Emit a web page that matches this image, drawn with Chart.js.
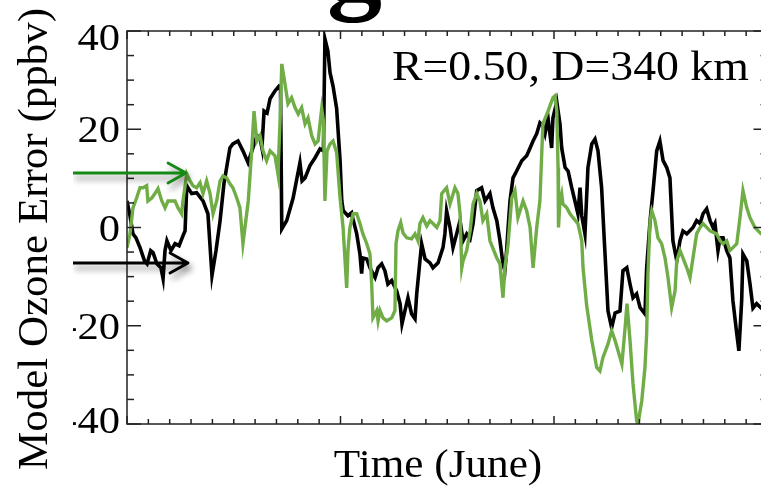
<!DOCTYPE html>
<html>
<head>
<meta charset="utf-8">
<title>Model Ozone Error</title>
<script src="https://cdn.jsdelivr.net/npm/chart.js@4.4.1/dist/chart.umd.min.js"></script>
<style>
  html, body { margin: 0; padding: 0; background: #fff; overflow: hidden; width: 761px; height: 492px; }
  #wrap { position: relative; width: 780px; height: 492px; }
</style>
</head>
<body>
<div id="wrap"><canvas id="ozoneChart" width="780" height="492"></canvas></div>
<script>
/* ==========================
   Data (days since June 1, ppbv)
   ========================== */
const blackDays = [
  0, 0.14, 0.28, 0.42, 0.61, 0.82, 0.94, 1.11, 1.22, 1.40,
  1.59, 1.69, 1.78, 1.87, 2.06, 2.25, 2.44, 2.62, 2.72, 2.80,
  3.03, 3.26, 3.56, 3.79, 3.98, 4.17, 4.36, 4.54, 4.82, 4.96,
  5.20, 5.43, 5.67, 5.85, 6.09, 6.23, 6.32, 6.42, 6.56, 6.70,
  6.93, 7.12, 7.19, 7.25, 7.48, 7.78, 8.10, 8.20, 8.34, 8.57,
  8.81, 9.04, 9.20, 9.27, 9.41, 9.51, 9.65, 9.82, 9.98, 10.06,
  10.13, 10.35, 10.52, 10.58, 10.76, 10.91, 10.99, 11.05, 11.23, 11.38,
  11.62, 11.76, 11.93, 12.08, 12.22, 12.40, 12.63, 12.79, 12.88, 13.02,
  13.16, 13.33, 13.49, 13.57, 13.72, 13.80, 13.96, 14.19, 14.33, 14.57,
  14.80, 14.89, 14.97, 15.13, 15.27, 15.44, 15.60, 15.74, 15.91, 16.07,
  16.21, 16.38, 16.61, 16.77, 17.00, 17.14, 17.32, 17.47, 17.61, 17.70,
  17.78, 17.85, 17.94, 18.08, 18.25, 18.49, 18.72, 18.88, 19.02, 19.19,
  19.34, 19.48, 19.58, 19.72, 19.89, 19.95, 20.13, 20.28, 20.36, 20.52,
  20.66, 20.83, 20.98, 21.12, 21.22, 21.30, 21.45, 21.59, 21.77, 21.92,
  22.06, 22.23, 22.34, 22.53, 22.70, 22.86, 23.09, 23.23, 23.41, 23.56,
  23.70, 23.87, 24.03, 24.26, 24.34, 24.50, 24.64, 24.81, 24.96, 25.11,
  25.28, 25.43, 25.57, 25.75, 25.90, 26.04, 26.22, 26.51, 26.68, 26.84,
  26.98, 27.15, 27.31, 27.45, 27.54, 27.68, 27.78, 27.92, 28.09, 28.24,
  28.38, 28.56, 28.66, 28.79, 28.85, 29.03, 29.18, 29.32, 29.49, 29.70,
  29.98
];
const blackErr = [
  5.4, 2.4, -1.3, -2.1, -4.1, -6.8, -7.4, -4.7, -5.1, -7.4,
  -8.2, -10.4, -4.7, -2.7, -4.7, -3.3, -3.7, -1.7, -0.7, 8.5,
  6.9, 7.1, 5.4, 2.8, -9.8, -4.7, 1.4, 8.9, 16.2, 17.0,
  17.6, 15.6, 13.2, 15.6, 18.7, 18.2, 16.2, 23.7, 23.3, 26.2,
  27.8, 28.8, 28.6, -0.3, 1.4, 6.0, 13.2, 9.5, 10.1, 12.6,
  14.2, 16.0, 15.6, 38.4, 35.9, 31.5, 28.8, 24.2, 13.6, 5.4,
  3.4, 2.4, 3.0, 1.8, -1.3, -5.4, -9.4, -6.2, -6.4, -8.2,
  -10.2, -8.2, -7.4, -8.8, -11.5, -10.8, -12.9, -15.5, -19.6, -16.9,
  -14.3, -17.6, -18.6, -13.5, -6.8, -3.3, -6.4, -7.2, -8.2, -7.2,
  -4.1, -1.3, 3.4, 0, -4.1, -1.3, 1.4, -2.7, -1.3, -2.3,
  0.8, 7.5, 8.1, 5.4, 6.9, 4.0, 1.4, -2.7, -7.4, -8.8,
  -4.7, 0, 5.4, 10.1, 11.5, 13.6, 14.6, 16.2, 17.6, 19.1,
  21.3, 20.7, 19.1, 22.3, 16.2, 22.3, 25.6, 21.1, 16.2, 12.2,
  11.5, 8.1, 5.4, 2.8, 8.1, 2.4, -1.3, 12.2, 17.0, 18.0,
  15.6, 8.1, -1.3, -17.0, -20.4, -17.4, -17.0, -8.8, -8.2, -11.5,
  -14.3, -13.5, -16.3, -17.6, -8.2, 1.4, 7.5, 15.6, 17.6, 13.6,
  12.2, 10.1, -2.7, -6.8, -2.7, -0.7, -1.3, 0, 1.4, 0.8,
  2.8, 3.8, 1.4, 0, 0.8, -4.7, -2.1, -2.1, -4.7, -6.2,
  -14.9, -21.6, -25.1, -14.9, -5.4, -6.8, -11.5, -16.4, -15.5, -16.4,
  -16.0
];

const greenDays = [
  0, 0.14, 0.28, 0.45, 0.61, 0.75, 0.92, 0.98, 1.16, 1.31,
  1.45, 1.63, 1.78, 1.92, 2.09, 2.25, 2.39, 2.56, 2.62, 2.80,
  2.95, 3.09, 3.26, 3.42, 3.56, 3.73, 3.89, 4.03, 4.20, 4.36,
  4.50, 4.67, 4.82, 4.96, 5.14, 5.29, 5.43, 5.68, 5.84, 5.95,
  6.08, 6.23, 6.37, 6.54, 6.70, 6.93, 7.07, 7.17, 7.25, 7.40,
  7.54, 7.71, 7.87, 8.02, 8.18, 8.34, 8.48, 8.65, 8.81, 8.95,
  9.12, 9.20, 9.27, 9.37, 9.51, 9.65, 9.82, 9.98, 10.12, 10.29,
  10.35, 10.44, 10.59, 10.76, 10.91, 11.05, 11.23, 11.38, 11.46, 11.52,
  11.70, 11.76, 11.85, 11.99, 12.16, 12.40, 12.55, 12.60, 12.69, 12.82,
  12.93, 13.10, 13.33, 13.49, 13.63, 13.72, 13.86, 14.04, 14.19, 14.33,
  14.51, 14.66, 14.74, 14.97, 15.13, 15.36, 15.50, 15.60, 15.68, 15.74,
  15.91, 16.07, 16.21, 16.38, 16.53, 16.67, 16.85, 17.00, 17.32, 17.47,
  17.61, 17.70, 17.85, 18.02, 18.17, 18.31, 18.41, 18.55, 18.72, 18.88,
  19.02, 19.19, 19.34, 19.48, 19.72, 19.95, 20.05, 20.13, 20.19, 20.21,
  20.28, 20.36, 20.42, 20.60, 20.75, 20.89, 21.12, 21.30, 21.36, 21.53,
  21.77, 22.00, 22.15, 22.29, 22.53, 22.70, 22.86, 23.00, 23.18, 23.33,
  23.42, 23.56, 23.70, 23.87, 23.93, 24.11, 24.26, 24.34, 24.40, 24.50,
  24.58, 24.73, 24.87, 25.04, 25.20, 25.34, 25.51, 25.67, 25.75, 25.90,
  26.04, 26.22, 26.37, 26.51, 26.68, 26.84, 26.98, 27.31, 27.62, 27.78,
  27.92, 28.09, 28.24, 28.38, 28.56, 28.71, 28.85, 29.03, 29.18, 29.41,
  29.70, 29.98
];
const greenErr = [
  -4.1, -1.3, 4.0, 6.0, 8.1, 8.1, 8.5, 5.4, 6.0, 6.9,
  7.9, 5.4, 4.0, 5.4, 5.4, 5.4, 4.0, 2.8, 5.4, 10.9,
  9.5, 8.5, 8.1, 9.1, 6.9, 9.5, 6.9, 2.8, 5.4, 9.5,
  10.5, 10.1, 8.9, 8.1, 6.0, 4.0, -3.3, 5.4, 15.6, 23.7,
  17.6, 18.7, 15.6, 13.6, 15.6, 14.6, 10.9, 21.7, 33.3, 29.2,
  25.2, 26.4, 24.4, 23.1, 24.4, 21.1, 22.3, 18.7, 17.0, 17.6,
  24.2, 21.7, 5.4, 15.6, 17.0, 17.6, 15.2, 6.0, 0, -12.3,
  -4.7, 0, 2.8, 2.8, 0.8, -1.3, -3.3, -5.4, -11.5, -18.4,
  -16.9, -19.0, -16.9, -18.4, -19.0, -18.4, -16.9, -3.3, -0.7, 1.0,
  -1.1, -2.1, -2.3, -1.3, -2.7, 0.8, 2.0, 0.3, 1.4, 0.8,
  0, 1.4, 6.9, 8.1, 4.8, 8.1, 6.9, 2.8, -8.2, -6.8,
  -4.7, -0.7, 4.8, 6.9, 5.4, 1.4, 2.8, -2.7, -6.2, -7.4,
  -14.3, -8.2, -3.3, 6.0, 7.5, 2.0, 3.4, 5.4, 3.4, 0,
  -8.2, 0, 5.4, 21.1, 23.7, 26.4, 26.8, 23.7, 12.2, 0,
  5.4, 6.9, 4.8, 4.0, 2.8, 2.0, 0.8, -2.7, -8.2, -15.9,
  -23.0, -28.5, -29.2, -26.5, -23.7, -21.0, -23.0, -25.1, -27.8, -20.4,
  -15.5, -23.0, -31.8, -39.3, -40.1, -35.3, -28.5, -21.6, -9.4, 1.4,
  3.4, 1.4, -2.1, -3.3, -6.2, -10.2, -16.3, -12.9, -6.8, -4.7,
  -6.2, -8.2, -10.2, -6.2, -1.3, 0, 0.8, -0.7, -1.3, -2.7,
  -3.3, -2.7, -4.7, -4.1, -3.3, 2.0, 7.5, 4.0, 2.0, 0,
  -1.3, -1.7
];

const yTickValues = [40, 20, 0, -20, -40];
const yTickLabels = ['40', '20', '0', '-20', '-40'];
const xMin = 0, xMax = 30;       // days of June
const xMajorEvery = 10;
const yMinorStep = 5;

const annotationText = 'R=0.50, D=340 km';
const xTitle = 'Time (June)';
const yTitle = 'Model Ozone Error (ppbv)';

/* ==========================
   Helpers
   ========================== */
function toPoints(days, vals) {
  return days.map((d, i) => ({ x: d, y: vals[i] }));
}

// draws text stretched horizontally by sx (source figure is slightly wide)
function drawText(ctx, text, x, y, font, align, sx) {
  ctx.save();
  ctx.font = font;
  ctx.textAlign = align;
  ctx.textBaseline = 'alphabetic';
  ctx.translate(x, y);
  ctx.scale(sx, 1);
  ctx.fillText(text, 0, 0);
  ctx.restore();
}

function seg(ctx, x1, y1, x2, y2) {
  ctx.beginPath();
  ctx.moveTo(x1, y1);
  ctx.lineTo(x2, y2);
  ctx.stroke();
}

function arrow(ctx, x0, x1, y, color) {
  ctx.save();
  ctx.strokeStyle = color;
  ctx.lineWidth = 2.8;
  ctx.lineCap = 'round';
  ctx.lineJoin = 'round';
  ctx.shadowColor = 'rgba(0,0,0,0.45)';
  ctx.shadowBlur = 6;
  ctx.shadowOffsetX = 3;
  ctx.shadowOffsetY = 5;
  ctx.beginPath();
  ctx.moveTo(x0, y);
  ctx.lineTo(x1, y);
  ctx.moveTo(x1 - 18, y - 10);
  ctx.lineTo(x1, y);
  ctx.lineTo(x1 - 18, y + 10);
  ctx.stroke();
  ctx.restore();
}

/* ==========================
   Frame, ticks and texts
   ========================== */
const framePlugin = {
  id: 'frame',
  afterDraw(chart) {
    const { ctx, chartArea: a, scales } = chart;
    const xs = scales.x, ys = scales.y;
    const serif = "'Liberation Serif', 'DejaVu Serif', serif";

    ctx.save();
    ctx.strokeStyle = '#222';
    ctx.lineWidth = 1.5;
    ctx.strokeRect(a.left, a.top, a.right - a.left, a.bottom - a.top);

    for (let d = xMin; d <= xMax; d++) {
      const px = xs.getPixelForValue(d);
      const len = d % xMajorEvery === 0 ? 8 : 5;
      seg(ctx, px, a.bottom, px, a.bottom - len);
      seg(ctx, px, a.top, px, a.top + len);
    }
    for (let v = ys.min; v <= ys.max; v += yMinorStep) {
      const py = ys.getPixelForValue(v);
      const len = v % 20 === 0 ? 14 : 7;
      seg(ctx, a.left, py, a.left + len, py);
      seg(ctx, a.right, py, a.right - len, py);
    }

    // tick labels
    ctx.fillStyle = '#000';
    yTickValues.forEach((v, i) => {
      const py = ys.getPixelForValue(v);
      const base = Math.min(Math.max(py + 13, a.top + 19), a.bottom + 9);
      drawText(ctx, yTickLabels[i], a.left - 7, base, '38px ' + serif, 'right', 1.12);
    });

    // annotation and x title
    drawText(ctx, annotationText, 392, 80, '42px ' + serif, 'left', 1.09);
    drawText(ctx, xTitle, 438, 477, '40px ' + serif, 'center', 1.08);

    // clipped heading letter above the panel
    drawText(ctx, 'g', 327, -1, 'bold 110px ' + serif, 'left', 1.0);

    // arrows
    arrow(ctx, 73, 186, 173, '#148a14');
    arrow(ctx, 73, 188, 263, '#000');

    // y title (its white box hides the minus signs partly, as in the source)
    ctx.fillStyle = '#fff';
    ctx.fillRect(0, 60, 73, a.bottom + 20 - 60);
    ctx.fillStyle = '#000';
    ctx.translate(47, 239);
    ctx.rotate(-Math.PI / 2);
    ctx.font = '43px ' + serif;
    ctx.textAlign = 'center';
    ctx.textBaseline = 'alphabetic';
    ctx.fillText(yTitle, 0, 0);
    ctx.restore();
  }
};

/* ==========================
   Chart
   ========================== */
function init() {
  const ctx = document.getElementById('ozoneChart');
  new Chart(ctx, {
    type: 'line',
    data: {
      datasets: [
        {
          label: 'Green',
          data: toPoints(greenDays, greenErr),
          borderColor: '#70AD47',
          borderWidth: 3.4
        },
        {
          label: 'Black',
          data: toPoints(blackDays, blackErr),
          borderColor: '#000000',
          borderWidth: 3.6
        }
      ]
    },
    options: {
      responsive: false,
      animation: false,
      devicePixelRatio: 1,
      layout: { padding: { left: 127, right: 12.5, top: 31, bottom: 68 } },
      elements: { point: { radius: 0 }, line: { tension: 0, borderJoinStyle: 'miter' } },
      scales: {
        x: { type: 'linear', min: xMin, max: xMax, display: false },
        y: { type: 'linear', min: -40, max: 40, display: false }
      },
      plugins: { legend: { display: false }, tooltip: { enabled: false } }
    },
    plugins: [framePlugin]
  });
}

if (document.readyState === 'loading') {
  document.addEventListener('DOMContentLoaded', init);
} else {
  init();
}
</script>
</body>
</html>
